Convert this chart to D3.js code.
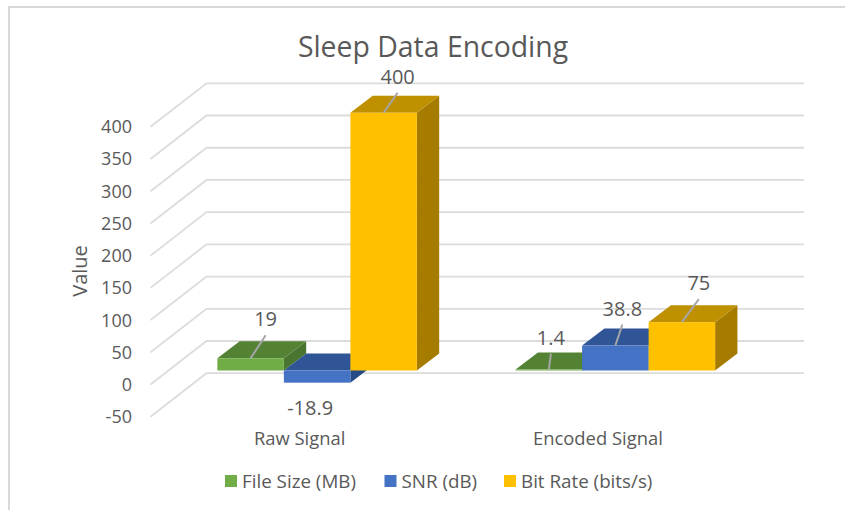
<!DOCTYPE html>
<html lang="en">
  <head>
    <meta charset="utf-8" />
    <title>Sleep Data Encoding</title>
    <script src="https://d3js.org/d3.v7.min.js"></script>
    <style>
      body {
        margin: 0;
        background: #fff;
      }
      text {
        font-family: "Open Sans", sans-serif;
        fill: #595959;
      }
    </style>
  </head>
  <body>
    <svg width="845" height="510"></svg>
    <script type="text/javascript">
      const categories = ["Raw Signal", "Encoded Signal"];
      const seriesNames = ["File Size (MB)", "SNR (dB)", "Bit Rate (bits/s)"];
      const fileSize = [19, 1.4];
      const snr = [-18.9, 38.8];
      const bitRate = [400, 75];
      const yTicks = [-50, 0, 50, 100, 150, 200, 250, 300, 350, 400];

      const seriesValues = [fileSize, snr, bitRate];
      const colours = [
        { front: "#70ad47", top: "#548235", side: "#4a7530" },
        { front: "#4472c4", top: "#2f5597", side: "#264a86" },
        { front: "#ffc000", top: "#bf9000", side: "#a67c00" },
      ];

      // leader line offsets from the front top edge of each bar, per series
      const leaders = [
        [[15, -23], [2, -16]],
        [null, [7, -21]],
        [[14, -20], [17, -23]],
      ];

      const svg = d3.select("svg");

      // picture frame
      svg
        .append("path")
        .attr("d", "M9,510V7H845")
        .attr("fill", "none")
        .attr("stroke", "#d9d9d9")
        .attr("stroke-width", 2);

      // y is read on the back wall, x on the plane the bars stand on
      const x0 = d3.scaleBand().domain(categories).range([168, 764.5]);
      const x1 = d3
        .scaleBand()
        .domain(seriesNames)
        .range([-99.75, 99.75]);
      const y = d3.scaleLinear().domain([0, 400]).range([341, 83.3]);

      // offset of the floor from back wall to front edge
      const floor = { dx: 56, dy: 43.5 };
      const barPlane = { dx: 38.5, dy: 29.5 };
      const barDepth = { dx: 22.3, dy: -17 };

      // grid: wall line plus the slanted floor part
      const grid = svg.append("g").attr("fill", "none").attr("stroke", "#dcdcdc");
      grid
        .selectAll("path")
        .data(yTicks)
        .join("path")
        .attr("stroke-width", 1.8)
        .attr(
          "d",
          (d) =>
            `M${x0.range()[0] + barPlane.dx - floor.dx},${y(d) + floor.dy}` +
            `L${x0.range()[0] + barPlane.dx},${y(d)}` +
            `H${x0.range()[1] + barPlane.dx + 1}`
        );

      const tickLabels = svg
        .append("g")
        .attr("text-anchor", "end")
        .attr("font-size", 18);
      tickLabels
        .selectAll("text")
        .data(yTicks)
        .join("text")
        .attr("x", 132)
        .attr("y", (d) => y(d) + floor.dy)
        .attr("dy", "0.36em")
        .text((d) => d);

      // bars, left to right so each side face sits on its neighbour
      const bars = [];
      categories.forEach((c, i) => {
        seriesNames.forEach((s, j) => {
          bars.push({ c, s, i, j, value: seriesValues[j][i] });
        });
      });

      const bar = svg
        .append("g")
        .selectAll("g")
        .data(bars)
        .join("g");

      const left = (d) => x0(d.c) + x0.bandwidth() / 2 + x1(d.s);
      const right = (d) => left(d) + x1.bandwidth();
      const yTop = (d) => y(Math.max(d.value, 0)) + barPlane.dy;
      const yBase = (d) => y(Math.min(d.value, 0)) + barPlane.dy;

      // right side face
      bar
        .append("polygon")
        .attr("fill", (d) => colours[d.j].side)
        .attr("points", (d) =>
          [
            [right(d), yTop(d)],
            [right(d) + barDepth.dx, yTop(d) + barDepth.dy],
            [right(d) + barDepth.dx, yBase(d) + barDepth.dy],
            [right(d), yBase(d)],
          ].join(" ")
        );

      // top face
      bar
        .append("polygon")
        .attr("fill", (d) => colours[d.j].top)
        .attr("points", (d) =>
          [
            [left(d), yTop(d)],
            [left(d) + barDepth.dx, yTop(d) + barDepth.dy],
            [right(d) + barDepth.dx, yTop(d) + barDepth.dy],
            [right(d), yTop(d)],
          ].join(" ")
        );

      // front face
      bar
        .append("rect")
        .attr("fill", (d) => colours[d.j].front)
        .attr("x", left)
        .attr("y", yTop)
        .attr("width", x1.bandwidth())
        .attr("height", (d) => yBase(d) - yTop(d));

      // leader lines
      svg
        .append("g")
        .attr("stroke", "#a6a6a6")
        .attr("stroke-width", 2)
        .selectAll("line")
        .data(bars.filter((d) => leaders[d.j][d.i]))
        .join("line")
        .attr("x1", (d) => left(d) + x1.bandwidth() / 2)
        .attr("y1", yTop)
        .attr("x2", (d) => left(d) + x1.bandwidth() / 2 + leaders[d.j][d.i][0])
        .attr("y2", (d) => yTop(d) + leaders[d.j][d.i][1]);

      // data labels sit above the leader end, the negative one hangs below its bar
      svg
        .append("g")
        .attr("text-anchor", "middle")
        .attr("font-size", 20)
        .selectAll("text")
        .data(bars)
        .join("text")
        .attr("x", (d) => {
          const l = leaders[d.j][d.i];
          return left(d) + x1.bandwidth() / 2 + (l ? l[0] : -7);
        })
        .attr("y", (d) => {
          const l = leaders[d.j][d.i];
          return l ? yTop(d) + l[1] - 9 : yBase(d) + 32;
        })
        .text((d) => d.value);

      // category labels
      svg
        .append("g")
        .attr("text-anchor", "middle")
        .attr("font-size", 18.4)
        .selectAll("text")
        .data(categories)
        .join("text")
        .attr("x", (d) => x0(d) + x0.bandwidth() / 2 - 17.5)
        .attr("y", 445)
        .text((d) => d);

      // axis title
      svg
        .append("text")
        .attr("transform", "translate(87,271) rotate(-90)")
        .attr("text-anchor", "middle")
        .attr("font-size", 20)
        .text("Value");

      // title
      svg
        .append("text")
        .attr("x", 433)
        .attr("y", 57)
        .attr("text-anchor", "middle")
        .attr("font-size", 28.4)
        .text("Sleep Data Encoding");

      // legend
      const legendX = d3
        .scaleOrdinal()
        .domain(seriesNames)
        .range([225, 384.5, 504]);
      const legend = svg
        .append("g")
        .selectAll("g")
        .data(seriesNames)
        .join("g")
        .attr("transform", (d) => `translate(${legendX(d)},481)`);
      legend
        .append("rect")
        .attr("y", -6)
        .attr("width", 12)
        .attr("height", 12)
        .attr("fill", (d, i) => colours[i].front);
      legend
        .append("text")
        .attr("x", 17)
        .attr("y", 6.5)
        .attr("font-size", 18.8)
        .text((d) => d);
    </script>
  </body>
</html>
